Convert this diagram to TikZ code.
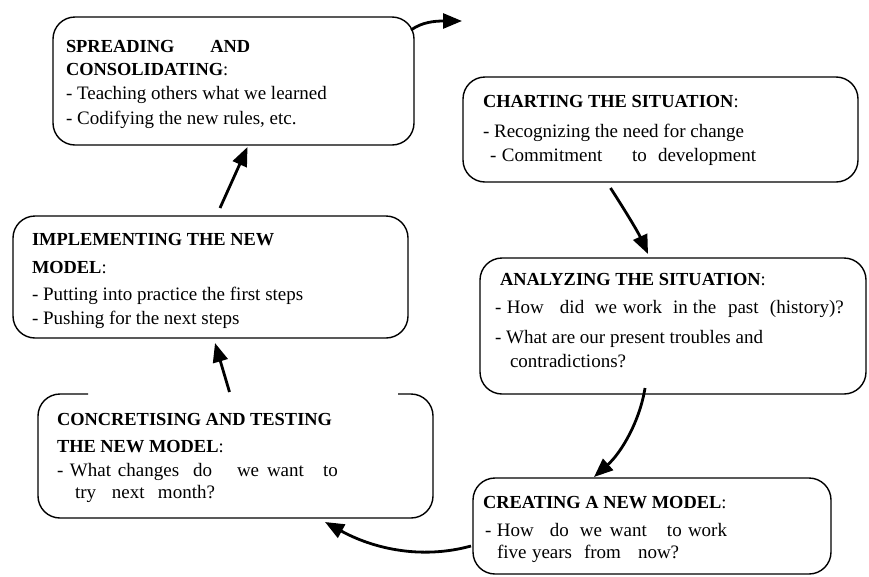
\documentclass[tikz,border=0pt]{standalone}
\usepackage{fontspec}
\setmainfont{Liberation Serif}
\usetikzlibrary{arrows.meta,calc}
\newcommand\wordbox[2]{\makebox[#1pt][l]{#2 }}
\begin{document}
\begin{tikzpicture}[x=1pt,y=-1pt,
  box/.style={draw, line width=1.4pt, rounded corners=22pt, inner sep=0pt, outer sep=0pt},
  txt/.style={anchor=base west, inner sep=0pt, outer sep=0pt, font=\fontsize{19}{22}\selectfont},
  ttl/.style={anchor=base west, inner sep=0pt, outer sep=0pt, font=\fontsize{18.4}{22}\selectfont\bfseries},
  arr/.style={line width=2.8pt, -{Triangle[length=19pt,width=15pt]}}]
\useasboundingbox (0,0) rectangle (869,576);
% boxes
\node[box, minimum width=361pt, minimum height=128pt] (b1) at (233.5,81) {};
\node[box, minimum width=395pt, minimum height=105pt] (b2) at (660.5,129.5) {};
\node[box, minimum width=386pt, minimum height=136pt] (b3) at (673,326) {};
\node[box, minimum width=358pt, minimum height=96pt] (b4) at (652,526) {};
\node[inner sep=0pt, outer sep=0pt, minimum width=395pt, minimum height=124pt] (b5) at (235.5,456) {};
\draw[line width=1.4pt, rounded corners=22pt] (88,394) -- (38,394) -- (38,518) -- (433,518) -- (433,394) -- (398,394);
\node[box, minimum width=395pt, minimum height=122pt] (b6) at (210.5,277) {};
% texts box 1
\node[ttl] (t1a) at (66,52) {SPREADING\hspace{36pt}AND};
\node[ttl] (t1b) at (66,75) {CONSOLIDATING{\mdseries:}};
\node[txt] (t1c) at (66,99) {- Teaching others what we learned};
\node[txt] (t1d) at (66,124) {- Codifying the new rules, etc.};
% box 2
\node[ttl] (t2a) at (483,107) {CHARTING THE SITUATION{\mdseries:}};
\node[txt] (t2b) at (483,137) {- Recognizing the need for change};
\node[txt] (t2c) at (490,161) {\wordbox{12}{-}\wordbox{130}{Commitment}\wordbox{26}{to}development};
% box 3
\node[ttl] (t3a) at (500,285) {ANALYZING THE SITUATION{\mdseries:}};
\node[txt] (t3b) at (495,313) {\wordbox{12}{-}\wordbox{53}{How}\wordbox{35}{did}\wordbox{28}{we}\wordbox{50}{work}\wordbox{20}{in}\wordbox{35}{the}\wordbox{42}{past}(history)?};
\node[txt] (t3c) at (495,343) {- What are our present troubles and};
\node[txt] (t3d) at (510,367) {contradictions?};
% box 4
\node[ttl] (t4a) at (483,508) {CREATING A NEW MODEL{\mdseries:}};
\node[txt] (t4b) at (485,536) {\wordbox{12}{-}\wordbox{53}{How}\wordbox{30}{do}\wordbox{30}{we}\wordbox{57}{want}\wordbox{21}{to}work};
\node[txt] (t4c) at (497,558) {\wordbox{35}{five}\wordbox{52}{years}\wordbox{54}{from}now?};
% box 5
\node[ttl] (t5a) at (57,425) {CONCRETISING AND TESTING};
\node[ttl] (t5b) at (57,452) {THE NEW MODEL{\mdseries:}};
\node[txt] (t5c) at (57,476) {\wordbox{13}{-}\wordbox{48}{What}\wordbox{75}{changes}\wordbox{44}{do}\wordbox{30}{we}\wordbox{56}{want}to};
\node[txt] (t5d) at (75,498) {\wordbox{37}{try}\wordbox{46}{next}month?};
% box 6
\node[ttl] (t6a) at (32,245) {IMPLEMENTING THE NEW};
\node[ttl] (t6b) at (32,273) {MODEL{\mdseries:}};
\node[txt] (t6c) at (32,300) {- Putting into practice the first steps};
\node[txt] (t6d) at (32,324) {- Pushing for the next steps};
% arrows
\coordinate (e1) at (462,21);
\draw[arr] ($(b1.north east)+(-3,13)$) .. controls (422,22) and (435,21) .. (e1);
\draw[arr] ($(b2.south)+(-50,6)$) .. controls (626,212) and (638,232) .. ($(b3.north)+(-25,-4)$);
\draw[arr] ($(b3.south)+(-28,-6)$) .. controls (640,420) and (622,452) .. ($(b4.north)+(-58,-1)$);
\draw[arr] ($(b4.west)+(-2,20)$) .. controls (420,560) and (372,548) .. ($(b5.south east)+(-108,4)$);
\draw[arr] ($(b5.north)+(-6,-2)$) -- ($(b6.south)+(4.5,5)$);
\draw[arr] ($(b6.north)+(9.5,-8)$) -- ($(b1.south)+(14,2)$);
\end{tikzpicture}
\end{document}
